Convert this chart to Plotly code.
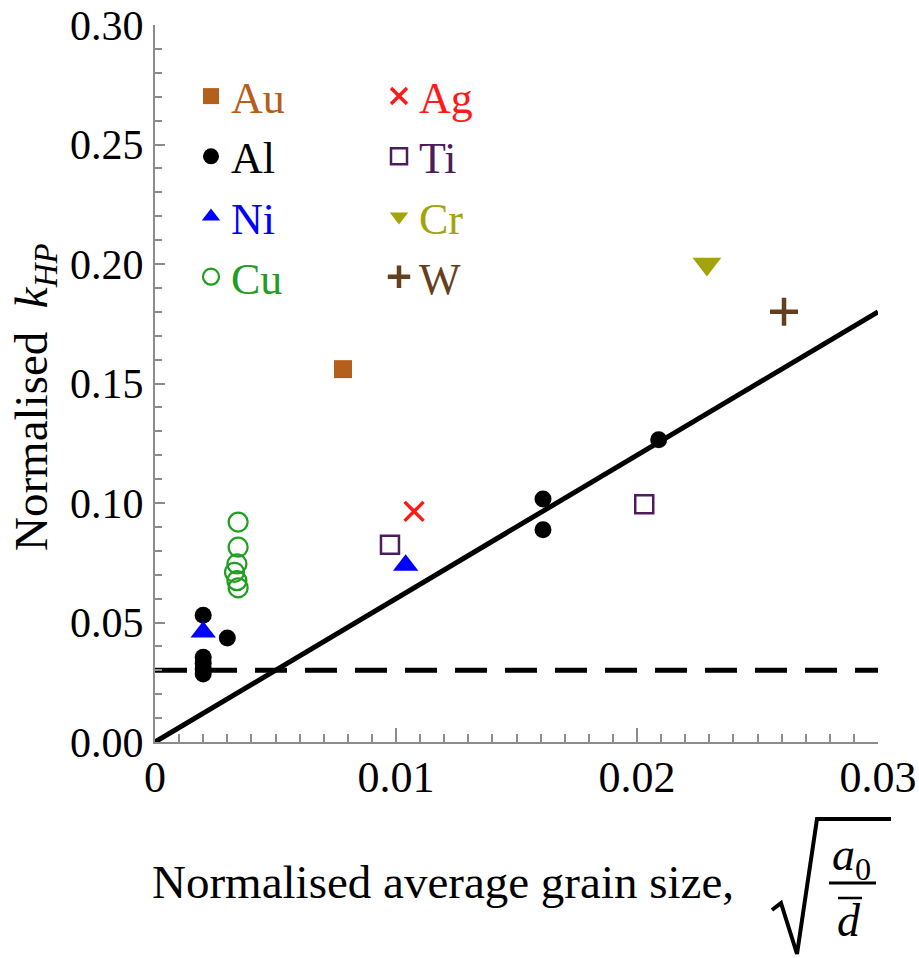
import plotly.graph_objects as go

# ---------------- data ----------------
au_x = [0.0078]
au_y = [0.156]
al_x = [0.0020, 0.0020, 0.0020, 0.0020, 0.0020, 0.0030, 0.0161, 0.0161, 0.0209]
al_y = [0.0530, 0.0355, 0.0330, 0.0305, 0.0285, 0.0435, 0.1017, 0.0888, 0.1265]
ni_x = [0.0020, 0.0104]
ni_y = [0.0460, 0.0740]
cu_x = [0.00345, 0.00345, 0.0034, 0.0033, 0.0034, 0.00345]
cu_y = [0.0920, 0.0815, 0.0745, 0.0710, 0.0675, 0.0645]
ag_x = [0.01075]
ag_y = [0.0965]
ti_x = [0.00975, 0.0203]
ti_y = [0.0825, 0.0995]
cr_x = [0.0229]
cr_y = [0.200]
w_x = [0.0261]
w_y = [0.180]
fit_x = [0.0, 0.03]
fit_y = [0.0, 0.18]
thr_x = [0.0, 0.03]
thr_y = [0.03, 0.03]

x_tick_vals = [0, 0.01, 0.02, 0.03]
x_tick_text = ["0", "0.01", "0.02", "0.03"]
y_tick_vals = [0, 0.05, 0.10, 0.15, 0.20, 0.25, 0.30]
y_tick_text = ["0.00", "0.05", "0.10", "0.15", "0.20", "0.25", "0.30"]

# ---------------- layout helpers ----------------
W, H = 919, 958
L, R, T, B = 155, 41, 25, 216
PW, PH = W - L - R, H - T - B


def px(x):
    return (x - L) / PW


def py(y):
    return (H - B - y) / PH


FONT = "Liberation Serif"
AXC = "#8c8c8c"

fig = go.Figure()

fig.add_trace(go.Scatter(x=thr_x, y=thr_y, mode="lines", showlegend=False,
                         line=dict(color="black", width=5, dash="32px,18px"),
                         cliponaxis=False, hoverinfo="skip"))
fig.add_trace(go.Scatter(x=fit_x, y=fit_y, mode="lines", showlegend=False,
                         line=dict(color="black", width=5),
                         cliponaxis=False, hoverinfo="skip"))


def lab(name, color):
    return f"<span style='color:{color}'>{name}</span>"


C_AU, C_AL, C_NI, C_CU = "#b4601c", "#000000", "#0000ff", "#1f9e1f"
C_AG, C_TI, C_CR, C_W = "#ff1a1a", "#4d1c5c", "#a3a30a", "#65401e"

# column 1
fig.add_trace(go.Scatter(x=au_x, y=au_y, mode="markers", name=lab("Au", C_AU),
                         marker=dict(symbol="square", size=18, color=C_AU),
                         legend="legend", cliponaxis=False))
fig.add_trace(go.Scatter(x=al_x, y=al_y, mode="markers", name=lab("Al", C_AL),
                         marker=dict(symbol="circle", size=17, color=C_AL),
                         legend="legend", cliponaxis=False))
fig.add_trace(go.Scatter(x=ni_x, y=ni_y, mode="markers", name=lab("Ni", C_NI),
                         marker=dict(symbol="triangle-up", size=22, color=C_NI),
                         legend="legend", cliponaxis=False))
fig.add_trace(go.Scatter(x=cu_x, y=cu_y, mode="markers", name=lab("Cu", C_CU),
                         marker=dict(symbol="circle-open", size=19, color=C_CU,
                                     line=dict(color=C_CU, width=2.2)),
                         legend="legend", cliponaxis=False))
# column 2
fig.add_trace(go.Scatter(x=ag_x, y=ag_y, mode="markers", name=lab("Ag", C_AG),
                         marker=dict(symbol="x-thin", size=19, color=C_AG,
                                     line=dict(color=C_AG, width=3.5)),
                         legend="legend2", cliponaxis=False))
fig.add_trace(go.Scatter(x=ti_x, y=ti_y, mode="markers", name=lab("Ti", C_TI),
                         marker=dict(symbol="square-open", size=18, color=C_TI,
                                     line=dict(color=C_TI, width=2.5)),
                         legend="legend2", cliponaxis=False))
fig.add_trace(go.Scatter(x=cr_x, y=cr_y, mode="markers", name=lab("Cr", C_CR),
                         marker=dict(symbol="triangle-down", size=25, color=C_CR),
                         legend="legend2", cliponaxis=False))
fig.add_trace(go.Scatter(x=w_x, y=w_y, mode="markers", name=lab("W", C_W),
                         marker=dict(symbol="cross-thin", size=20, color=C_W,
                                     line=dict(color=C_W, width=4.5)),
                         legend="legend2", cliponaxis=False))

legend_common = dict(xanchor="left", yanchor="top", bgcolor="rgba(0,0,0,0)",
                     font=dict(family=FONT, size=44, color="black"),
                     itemsizing="trace", tracegroupgap=0)

axis_common = dict(showgrid=False, zeroline=False, automargin=False,
                   showline=True, linecolor=AXC, linewidth=2,
                   ticks="inside", tickwidth=1.5, tickcolor=AXC,
                   ticklabeloverflow="allow")

fig.update_layout(
    template="none",
    width=W, height=H,
    margin=dict(l=L, r=R, t=T, b=B, pad=0, autoexpand=False),
    paper_bgcolor="white", plot_bgcolor="white",
    font=dict(family=FONT, color="black"),
    legend=dict(x=px(191), y=py(61), **legend_common),
    legend2=dict(x=px(379), y=py(61), **legend_common),
    xaxis=dict(range=[0, 0.03], ticklen=14,
               tickvals=x_tick_vals, ticktext=x_tick_text,
               tickfont=dict(family=FONT, size=44, color="black"),
               ticklabelstandoff=-5,
               minor=dict(dtick=0.001, ticks="inside", ticklen=8,
                          tickwidth=1.5, tickcolor=AXC, showgrid=False),
               **axis_common),
    yaxis=dict(range=[0, 0.30], ticklen=10,
               tickvals=y_tick_vals, ticktext=y_tick_text,
               tickfont=dict(family=FONT, size=42, color="black"),
               ticklabelstandoff=1,
               minor=dict(dtick=0.01, ticks="inside", ticklen=7,
                          tickwidth=1.5, tickcolor=AXC, showgrid=False),
               **axis_common),
)

# axis titles
fig.add_annotation(xref="paper", yref="paper", x=px(34), y=py(397),
                   text="Normalised  <i>k</i><sub><i>HP</i></sub>",
                   textangle=-90, showarrow=False, xanchor="center", yanchor="middle",
                   font=dict(family=FONT, size=47, color="black"))
fig.add_annotation(xref="paper", yref="paper", x=px(150), y=py(882),
                   text="Normalised average grain size,",
                   showarrow=False, xanchor="left", yanchor="middle",
                   font=dict(family=FONT, size=47, color="black"))
# sqrt(a0 / d-bar)
fig.add_shape(type="path", xref="paper", yref="paper",
              path=(f"M {px(772)},{py(910)} L {px(781)},{py(903)} L {px(797)},{py(954)} "
                    f"L {px(817)},{py(819)} L {px(891)},{py(819)}"),
              line=dict(color="black", width=4), fillcolor="rgba(0,0,0,0)")
fig.add_annotation(xref="paper", yref="paper", x=px(851), y=py(858),
                   text="<i>a</i><sub>0</sub>", showarrow=False,
                   xanchor="center", yanchor="middle",
                   font=dict(family=FONT, size=46, color="black"))
fig.add_shape(type="line", xref="paper", yref="paper",
              x0=px(829), x1=px(876), y0=py(883), y1=py(883),
              line=dict(color="black", width=3))
fig.add_annotation(xref="paper", yref="paper", x=px(849), y=py(920),
                   text="<i>d</i>", showarrow=False,
                   xanchor="center", yanchor="middle",
                   font=dict(family=FONT, size=46, color="black"))
fig.add_shape(type="line", xref="paper", yref="paper",
              x0=px(838), x1=px(862), y0=py(898), y1=py(898),
              line=dict(color="black", width=2.5))

fig.write_html("out.html")
